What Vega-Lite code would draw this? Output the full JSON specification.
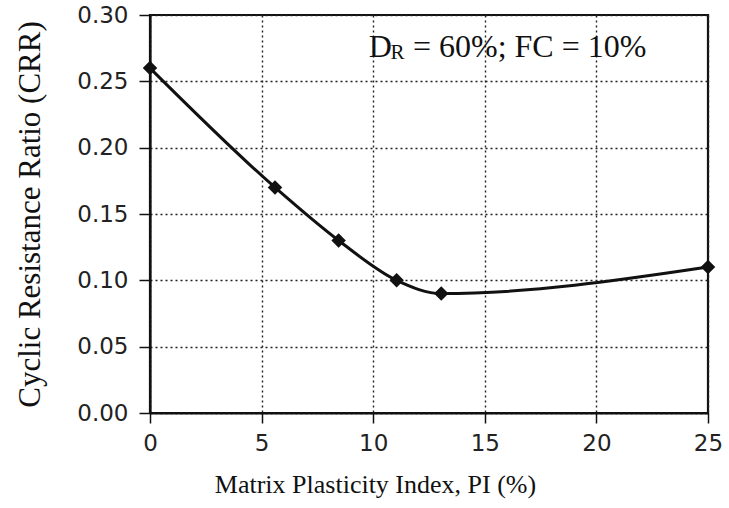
{
  "$schema": "https://vega.github.io/schema/vega-lite/v6.json",
  "width": 558,
  "height": 398,
  "autosize": {"type": "none"},
  "padding": {"left": 150, "top": 15, "right": 21, "bottom": 95},
  "background": "white",
  "config": {
    "view": {"stroke": "#111", "strokeWidth": 2.2},
    "axis": {
      "domain": true,
      "domainColor": "#111",
      "domainWidth": 2.2,
      "tickColor": "#111",
      "tickWidth": 1.5,
      "tickSize": 10,
      "labelFont": "DejaVu Sans",
      "labelFontSize": 23,
      "labelColor": "#222",
      "titleFont": "Liberation Serif",
      "titleFontWeight": "normal",
      "titleColor": "#111",
      "gridColor": "#222",
      "gridWidth": 1.4,
      "gridDash": [2, 3]
    }
  },
  "data": {
    "values": [
      {"pi": 0, "crr": 0.26},
      {"pi": 5.6, "crr": 0.17},
      {"pi": 8.45, "crr": 0.13},
      {"pi": 11.05, "crr": 0.10},
      {"pi": 13.05, "crr": 0.09},
      {"pi": 25, "crr": 0.11}
    ]
  },
  "layer": [
    {
      "mark": {"type": "line", "color": "#111", "strokeWidth": 3, "interpolate": "monotone"},
      "encoding": {
        "x": {
          "field": "pi", "type": "quantitative",
          "scale": {"domain": [0, 25], "nice": false},
          "axis": {
            "values": [0, 5, 10, 15, 20, 25],
            "title": "Matrix Plasticity Index, PI (%)",
            "titleFontSize": 26,
            "titleX": 225,
            "titleY": 58,
            "labelPadding": 9,
            "labelFlush": false
          }
        },
        "y": {
          "field": "crr", "type": "quantitative",
          "scale": {"domain": [0, 0.3], "nice": false},
          "axis": {
            "values": [0, 0.05, 0.1, 0.15, 0.2, 0.25, 0.3],
            "format": ".2f",
            "title": "Cyclic Resistance Ratio (CRR)",
            "titleFontSize": 31,
            "titlePadding": 30,
            "tickSize": 11,
            "labelPadding": 11
          }
        }
      }
    },
    {
      "mark": {"type": "point", "shape": "diamond", "filled": true, "color": "#111", "size": 210, "opacity": 1},
      "encoding": {
        "x": {"field": "pi", "type": "quantitative"},
        "y": {"field": "crr", "type": "quantitative"}
      }
    },
    {
      "data": {"values": [{"x": 9.8, "y": 0.2686, "t": "D"}]},
      "mark": {"type": "text", "font": "Liberation Serif", "fontSize": 32, "align": "left", "baseline": "alphabetic", "color": "#111"},
      "encoding": {
        "x": {"field": "x", "type": "quantitative"},
        "y": {"field": "y", "type": "quantitative"},
        "text": {"field": "t"}
      }
    },
    {
      "data": {"values": [{"x": 10.78, "y": 0.2668, "t": "R"}]},
      "mark": {"type": "text", "font": "Liberation Serif", "fontSize": 21, "align": "left", "baseline": "alphabetic", "color": "#111"},
      "encoding": {
        "x": {"field": "x", "type": "quantitative"},
        "y": {"field": "y", "type": "quantitative"},
        "text": {"field": "t"}
      }
    },
    {
      "data": {"values": [{"x": 11.78, "y": 0.2686, "t": "= 60%; FC = 10%"}]},
      "mark": {"type": "text", "font": "Liberation Serif", "fontSize": 32, "align": "left", "baseline": "alphabetic", "color": "#111"},
      "encoding": {
        "x": {"field": "x", "type": "quantitative"},
        "y": {"field": "y", "type": "quantitative"},
        "text": {"field": "t"}
      }
    }
  ]
}
